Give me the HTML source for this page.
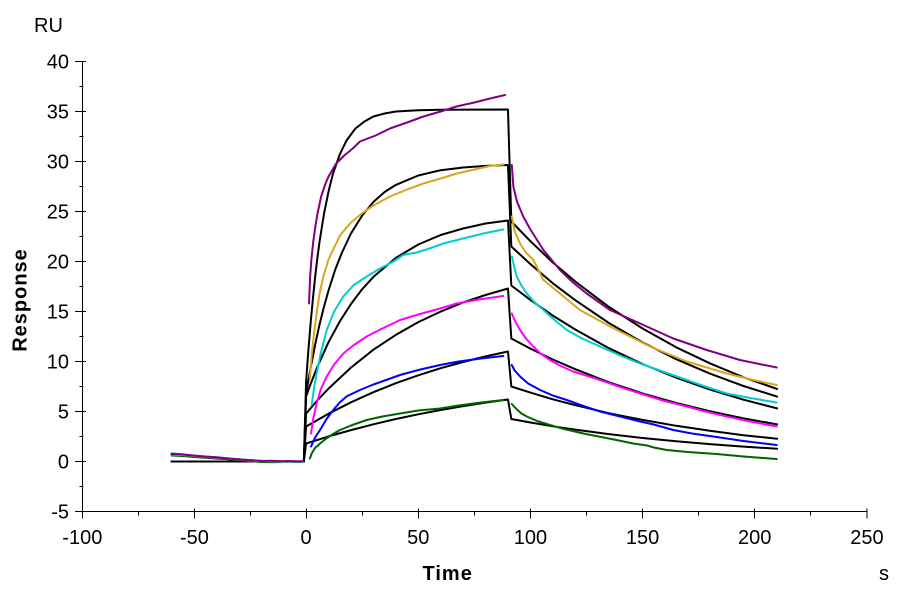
<!DOCTYPE html>
<html>
<head>
<meta charset="utf-8">
<style>
html,body{margin:0;padding:0;background:#fff;}
svg{display:block;}
text{font-family:"Liberation Sans",Arial,sans-serif;fill:#000;}
.c{fill:none;stroke-width:2;stroke-linejoin:round;stroke-linecap:round;}
</style>
</head>
<body>
<svg width="900" height="600" viewBox="0 0 900 600" xmlns="http://www.w3.org/2000/svg">
<rect width="900" height="600" fill="#fff"/>

<!-- axes -->
<g stroke="#000" stroke-width="1" fill="none">
<line x1="82.5" y1="61" x2="82.5" y2="512"/>
<line x1="82" y1="511.5" x2="867.5" y2="511.5"/>
<!-- y major ticks -->
<line x1="75" y1="61.5" x2="86" y2="61.5"/>
<line x1="75" y1="111.5" x2="86" y2="111.5"/>
<line x1="75" y1="161.5" x2="86" y2="161.5"/>
<line x1="75" y1="211.5" x2="86" y2="211.5"/>
<line x1="75" y1="261.5" x2="86" y2="261.5"/>
<line x1="75" y1="311.5" x2="86" y2="311.5"/>
<line x1="75" y1="361.5" x2="86" y2="361.5"/>
<line x1="75" y1="411.5" x2="86" y2="411.5"/>
<line x1="75" y1="461.5" x2="86" y2="461.5"/>
<line x1="75" y1="511.5" x2="82.5" y2="511.5"/>
<!-- y minor ticks -->
<line x1="79.5" y1="86.5" x2="83.5" y2="86.5"/>
<line x1="79.5" y1="136.5" x2="83.5" y2="136.5"/>
<line x1="79.5" y1="186.5" x2="83.5" y2="186.5"/>
<line x1="79.5" y1="236.5" x2="83.5" y2="236.5"/>
<line x1="79.5" y1="286.5" x2="83.5" y2="286.5"/>
<line x1="79.5" y1="336.5" x2="83.5" y2="336.5"/>
<line x1="79.5" y1="386.5" x2="83.5" y2="386.5"/>
<line x1="79.5" y1="436.5" x2="83.5" y2="436.5"/>
<line x1="79.5" y1="486.5" x2="83.5" y2="486.5"/>
<!-- x major ticks -->
<line x1="82.5" y1="511.5" x2="82.5" y2="518.5"/>
<line x1="194.5" y1="508.5" x2="194.5" y2="518.5"/>
<line x1="306.5" y1="508.5" x2="306.5" y2="518.5"/>
<line x1="418.5" y1="508.5" x2="418.5" y2="518.5"/>
<line x1="530.5" y1="508.5" x2="530.5" y2="518.5"/>
<line x1="642.5" y1="508.5" x2="642.5" y2="518.5"/>
<line x1="754.5" y1="508.5" x2="754.5" y2="518.5"/>
<line x1="867" y1="508.5" x2="867" y2="518.5"/>
<!-- x minor ticks -->
<line x1="138.5" y1="511.5" x2="138.5" y2="515.5"/>
<line x1="250.5" y1="511.5" x2="250.5" y2="515.5"/>
<line x1="362.5" y1="511.5" x2="362.5" y2="515.5"/>
<line x1="474.5" y1="511.5" x2="474.5" y2="515.5"/>
<line x1="586.5" y1="511.5" x2="586.5" y2="515.5"/>
<line x1="698.5" y1="511.5" x2="698.5" y2="515.5"/>
<line x1="810.5" y1="511.5" x2="810.5" y2="515.5"/>
</g>

<!-- y tick labels -->
<g font-size="20" text-anchor="end">
<text x="69" y="68.5">40</text>
<text x="69" y="118.5">35</text>
<text x="69" y="168.5">30</text>
<text x="69" y="218.5">25</text>
<text x="69" y="268.5">20</text>
<text x="69" y="318.5">15</text>
<text x="69" y="368.5">10</text>
<text x="69" y="418.5">5</text>
<text x="69" y="468.5">0</text>
<text x="69" y="518.5">-5</text>
</g>
<!-- x tick labels -->
<g font-size="20" text-anchor="middle">
<text x="82.3" y="544">-100</text>
<text x="194.4" y="544">-50</text>
<text x="306.1" y="544">0</text>
<text x="418.3" y="544">50</text>
<text x="530.4" y="544">100</text>
<text x="642.6" y="544">150</text>
<text x="754.7" y="544">200</text>
<text x="866.9" y="544">250</text>
</g>

<text x="34" y="32" font-size="20">RU</text>
<text x="0" y="0" font-size="20" font-weight="bold" letter-spacing="1" text-anchor="middle" transform="translate(26.5,300) rotate(-90)">Response</text>
<text x="422.5" y="580" font-size="20" font-weight="bold" letter-spacing="1">Time</text>
<text x="879" y="580" font-size="20">s</text>

<g transform="translate(306.1,461.5) scale(2.243,-10)">
<!-- black fits -->
<g stroke="#000">
<polyline class="c" vector-effect="non-scaling-stroke" points="-60,0 -1,0 0,8 1,11.07 2,13.8 3,16.2 4,18.4 5,20.3 6,22.0 8,24.8 10,27.0 12,28.8 15,30.7 18,32.1 22,33.3 26,34.0 30,34.5 35,34.8 40,35.0 50,35.13 60,35.18 90,35.2 91.5,24 100,22.03 110,19.9 120,18.0 135,15.46 150,13.3 165,11.42 180,9.82 195,8.42 210,7.25"/>
<polyline class="c" vector-effect="non-scaling-stroke" points="-60,0 -1,0 0,6.75 1,8.08 2,9.35 4,11.65 6,13.7 8,15.5 10,17.1 13,19.2 16,20.9 20,22.8 25,24.6 30,25.95 35,26.95 40,27.66 50,28.6 60,29.13 70,29.4 80,29.56 90,29.65 91.5,21.5 100,19.74 110,17.82 120,16.13 135,13.85 150,11.91 165,10.23 180,8.79 195,7.55 210,6.49"/>
<polyline class="c" vector-effect="non-scaling-stroke" points="-60,0 -1,0 0,6.5 2,7.75 5,9.46 10,11.93 15,14.0 20,15.75 25,17.23 30,18.46 40,20.36 50,21.7 60,22.65 70,23.3 80,23.8 90,24.1 91.5,17.6 100,16.16 110,14.59 120,13.2 135,11.33 150,9.75 165,8.38 180,7.2 195,6.18 210,5.31"/>
<polyline class="c" vector-effect="non-scaling-stroke" points="-60,0 -1,0 0,4.8 5,6.11 10,7.29 20,9.39 30,11.18 40,12.66 50,13.94 60,14.99 70,15.9 80,16.65 90,17.3 91.5,12.3 100,11.29 110,10.2 120,9.23 135,7.92 150,6.81 165,5.85 180,5.03 195,4.32 210,3.71"/>
<polyline class="c" vector-effect="non-scaling-stroke" points="-60,0 -1,0 0,3.5 10,4.78 20,5.92 30,6.93 40,7.83 50,8.62 60,9.33 70,9.95 80,10.51 90,11.0 91.5,7.5 100,6.89 110,6.22 120,5.63 135,4.83 150,4.16 165,3.57 180,3.07 195,2.63 210,2.27"/>
<polyline class="c" vector-effect="non-scaling-stroke" points="-60,0 -1,0 0,1.8 10,2.51 20,3.14 30,3.72 40,4.25 50,4.72 60,5.15 70,5.53 80,5.89 90,6.2 91.5,4.25 100,3.9 110,3.52 120,3.19 135,2.74 150,2.35 165,2.02 180,1.74 195,1.49 210,1.28"/>
</g>

<!-- green -->
<g stroke="#006400">
<polyline class="c" vector-effect="non-scaling-stroke" points="-60,0.6 -55,0.55 -50,0.45 -45,0.38 -40,0.3 -35,0.22 -30,0.12 -25,0.05 -20,-0.05 -15,-0.08 -10,-0.05 -5,-0.02 -1.5,-0.05"/>
<polyline class="c" vector-effect="non-scaling-stroke" points="1.7,0.3 2.5,0.8 4,1.35 6.2,1.8 9,2.3 12,2.75 15.1,3.15 20,3.6 27,4.15 34,4.5 41.9,4.8 50,5.1 59.7,5.3 68,5.6 78,5.9 87.9,6.15"/>
<polyline class="c" vector-effect="non-scaling-stroke" points="91.7,5.75 94,5.2 96,4.8 98.4,4.5 103,4.05 108.7,3.65 115,3.25 123.6,2.8 135,2.3 145.9,1.8 152,1.6 155,1.4 160.8,1.15 170,0.95 183,0.75 195,0.5 209.8,0.25"/>
</g>
<!-- blue -->
<g stroke="#0000ff">
<polyline class="c" vector-effect="non-scaling-stroke" points="-60,0.7 -55,0.62 -50,0.55 -45,0.45 -40,0.38 -35,0.3 -30,0.2 -25,0.12 -20,0.05 -15,0.02 -10,0 -5,0.02 -1.5,0"/>
<polyline class="c" vector-effect="non-scaling-stroke" points="2.2,1.5 4,2.4 6.2,3.15 9,4.2 12.1,5.15 15,5.9 18,6.5 24,7.15 30,7.7 35,8.1 41.9,8.65 50,9.15 59.7,9.65 68,10 78,10.3 87.9,10.55"/>
<polyline class="c" vector-effect="non-scaling-stroke" points="91.7,9.65 93,9.1 95.4,8.5 99,7.8 104.3,7.15 110,6.6 116.2,6.15 123,5.6 131,5 140,4.5 148.9,4 155,3.7 163.7,3.15 172,2.8 181.5,2.5 195,2.05 209.8,1.65"/>
</g>
<!-- magenta -->
<g stroke="#ff00ff">
<polyline class="c" vector-effect="non-scaling-stroke" points="-60,0.72 -55,0.66 -50,0.58 -45,0.5 -40,0.4 -35,0.3 -30,0.22 -25,0.14 -20,0.06 -15,0.04 -10,-0.02 -5,0 -1.5,-0.02"/>
<polyline class="c" vector-effect="non-scaling-stroke" points="2.2,2.8 3.2,4.3 4.7,5.8 6.5,7.2 9.2,8.5 12.5,9.7 16.6,10.8 21,11.6 27,12.5 34,13.3 41.9,14.15 50,14.7 59.7,15.3 67.1,15.8 77,16.2 87.9,16.55"/>
<polyline class="c" vector-effect="non-scaling-stroke" points="91.7,14.8 93.5,13.9 95.4,13.15 98,12.3 101.3,11.5 104.5,10.8 108.7,10.15 113,9.6 119.1,9 131,8.15 140,7.45 148.9,6.8 159,6.1 169.7,5.5 178,5 187.5,4.5 198,4 209.8,3.5"/>
</g>
<!-- cyan -->
<g stroke="#00cdd0">
<polyline class="c" vector-effect="non-scaling-stroke" points="-60,0.82 -55,0.72 -50,0.6 -45,0.5 -40,0.42 -35,0.32 -30,0.22 -25,0.12 -20,0.05 -15,0.02 -10,-0.05 -5,-0.02 -1.5,-0.05"/>
<polyline class="c" vector-effect="non-scaling-stroke" points="2.5,5.65 3.5,7.3 4.7,8.8 6.5,10.8 9.2,13.15 12.5,15 16.6,16.5 21,17.6 27,18.5 33,19.3 38.9,20 43.3,20.65 49.3,20.9 55,21.3 61.2,21.8 70,22.3 79,22.8 87.9,23.2"/>
<polyline class="c" vector-effect="non-scaling-stroke" points="91.7,20.5 93,19.3 93.9,18.5 96,17.6 98.4,16.8 101.5,16 105.8,15.15 110,14.3 116.2,13.15 123,12.3 131,11.5 140,10.6 148.9,9.8 159,9 169.7,8.15 178,7.5 187.5,6.8 198,6.35 209.8,5.9"/>
</g>
<!-- orange -->
<g stroke="#daa520">
<polyline class="c" vector-effect="non-scaling-stroke" points="-60,0.7 -55,0.65 -50,0.55 -45,0.48 -40,0.4 -35,0.3 -30,0.2 -25,0.12 -20,0.04 -15,0.05 -10,0 -5,0.03 -1.5,0"/>
<polyline class="c" vector-effect="non-scaling-stroke" points="1.7,8.3 2.4,10.5 3.2,12.15 4.5,14.5 6,16.8 7.7,18.5 10,20.2 12.1,21.2 15.1,22.6 17.3,23.2 20,23.9 24.8,24.8 30,25.6 37.4,26.5 45,27.2 52.3,27.8 60,28.3 67.1,28.8 75,29.2 82,29.55 88,29.7"/>
<polyline class="c" vector-effect="non-scaling-stroke" points="91.7,24.5 93,23 95.4,21.8 98,20.9 101.3,20.15 105.8,18.15 113.2,16.8 122.1,15.15 135.5,13.5 153.3,11.5 169.7,10 187.5,8.8 199.4,8.15 209.8,7.65"/>
</g>
<!-- purple -->
<g stroke="#800080">
<polyline class="c" vector-effect="non-scaling-stroke" points="-60,0.75 -56,0.72 -52,0.62 -48,0.55 -44,0.48 -40,0.42 -36,0.33 -32,0.25 -28,0.18 -24,0.12 -20,0.05 -16,0.08 -12,0.02 -8,0.05 -4,0 -1.5,0.02"/>
<polyline class="c" vector-effect="non-scaling-stroke" points="1.3,15.8 1.8,18.5 2.4,20.3 3.2,22 4,23.3 5,24.7 6.7,26.5 8.5,27.7 10,28.5 13.4,29.8 17,30.6 20.8,31.3 24,32 31,32.6 37.4,33.3 45,33.9 52.3,34.5 60,35.0 67,35.5 75,35.9 82,36.3 88.7,36.65"/>
<polyline class="c" vector-effect="non-scaling-stroke" points="91.7,29.65 92.4,27.5 94,26 96.8,24.5 100,23.2 105.8,21.15 113.2,19.15 119,17.9 125.1,16.8 135.5,15.15 148.9,13.8 163.7,12.3 178.6,11.15 193.4,10.15 209.8,9.4"/>
</g>
</g>
</svg>
</body>
</html>
